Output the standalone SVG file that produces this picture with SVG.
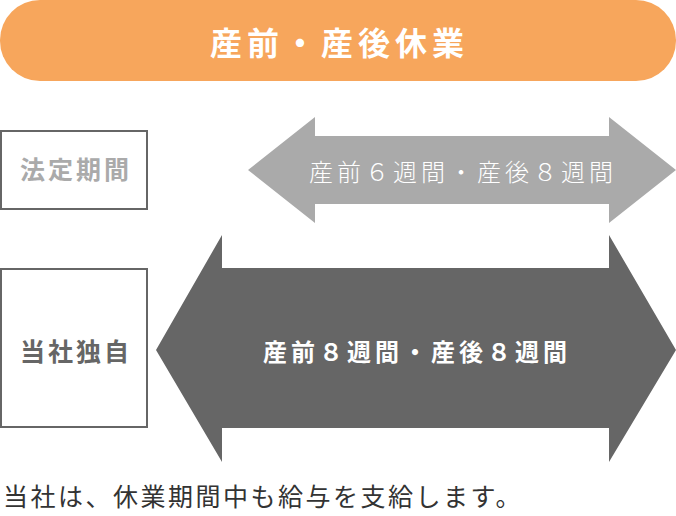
<svg xmlns="http://www.w3.org/2000/svg" width="676" height="516" viewBox="0 0 676 516">
<style>
text{font-family:"Noto Sans CJK JP","Noto Sans CJK SC",sans-serif;}
.box{fill:#fff;stroke:#666;stroke-width:2;}
.lbl{font-size:25px;font-weight:bold;letter-spacing:3px;}
</style>
<rect width="676" height="516" fill="#fff"/>
<g id="title">
<rect x="0" y="0" width="676" height="81" rx="40" ry="40" fill="#F7A65C"/>
<text x="210" y="55" font-size="32" font-weight="bold" fill="#fff" letter-spacing="5">産前・産後休業</text>
</g>
<g id="legal">
<rect class="box" x="1" y="131" width="146" height="78"/>
<text class="lbl" x="20" y="179" fill="#aaa">法定期間</text>
</g>
<g id="company">
<rect class="box" x="1" y="269" width="146" height="158"/>
<text class="lbl" x="20" y="361" fill="#666">当社独自</text>
</g>
<g id="connectors">
<g id="arrow-legal">
<polygon points="248,170 315,117 315,136 609,136 609,117 676,170 609,223 609,204 315,204 315,223" fill="#aaa"/>
<text x="309" y="181" font-size="24" font-weight="300" fill="#fff" letter-spacing="4">産前６週間・産後８週間</text>
</g>
<g id="arrow-company">
<polygon points="156,350 222,235 222,268 609,268 609,235 676,350 609,462 609,428 222,428 222,462" fill="#666"/>
<text x="263" y="361" font-size="24" font-weight="bold" fill="#fff" letter-spacing="4">産前８週間・産後８週間</text>
</g>
</g>
<text x="3" y="506" font-size="25" fill="#333" letter-spacing="2.5">当社は、休業期間中も給与を支給します。</text>
</svg>
